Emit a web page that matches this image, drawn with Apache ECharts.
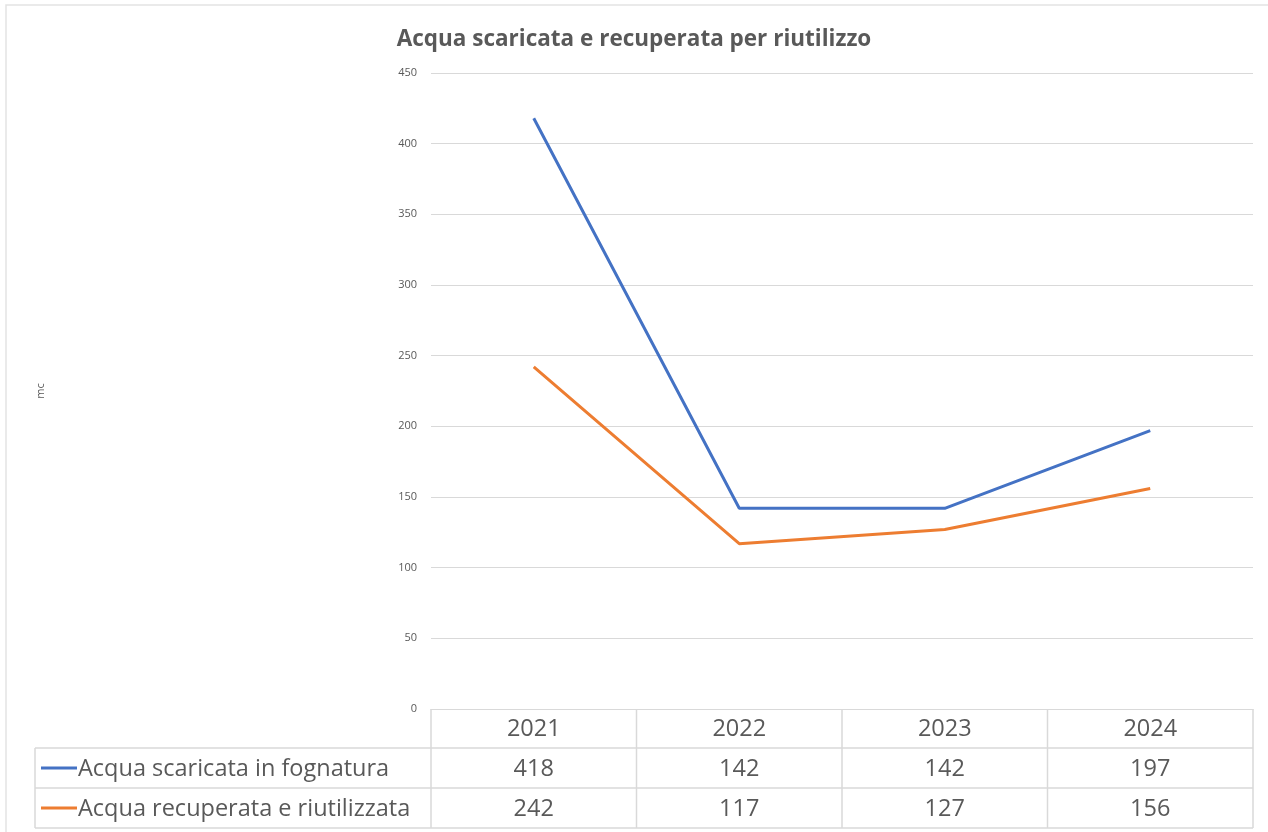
<!DOCTYPE html>
<html>
<head>
<meta charset="utf-8">
<script src="https://cdn.jsdelivr.net/npm/echarts@6/dist/echarts.min.js"></script>
<style>
    html,body{margin:0;padding:0;background:#fff;}
    #chart{width:1268px;height:832px;}
</style>
</head>
<body>
<div id="chart"></div>
<script>
    // dati del grafico
    var anni = ['2021', '2022', '2023', '2024'];
    var scaricata = [418, 142, 142, 197];
    var recuperata = [242, 117, 127, 156];
    var nomiSerie = ['Acqua scaricata in fognatura', 'Acqua recuperata e riutilizzata'];
    var colori = ['#4472C4', '#ED7D31'];

    var testo = '#595959';
    var bordo = '#d9d9d9';
    var font = '"Open Sans", "Noto Sans", sans-serif';

    var myChart = echarts.init(document.getElementById('chart'));

    var option = {
        backgroundColor: '#fff',
        animation: false,
        textStyle: { fontFamily: font },
        title: {
            text: 'Acqua scaricata e recuperata per riutilizzo',
            left: 'center',
            top: 23,
            textStyle: { fontSize: 22.5, fontWeight: 'bold', color: testo, fontFamily: font }
        },
        grid: { left: 431, right: 15, top: 73, bottom: 123 },
        xAxis: {
            type: 'category',
            data: anni,
            boundaryGap: true,
            axisLine: { lineStyle: { color: bordo } },
            axisTick: { show: false },
            axisLabel: { show: false }
        },
        yAxis: {
            type: 'value',
            min: 0,
            max: 450,
            interval: 50,
            name: 'mc',
            nameLocation: 'middle',
            nameGap: 385,
            nameRotate: 90,
            nameTextStyle: { fontSize: 11, color: testo },
            axisLine: { show: false },
            axisTick: { show: false },
            axisLabel: { fontSize: 11, color: testo, margin: 14 },
            splitLine: { lineStyle: { color: bordo, width: 1 } }
        },
        series: [
            {
                name: nomiSerie[0], type: 'line', data: scaricata, symbol: 'none',
                lineStyle: { color: colori[0], width: 3 }, itemStyle: { color: colori[0] }
            },
            {
                name: nomiSerie[1], type: 'line', data: recuperata, symbol: 'none',
                lineStyle: { color: colori[1], width: 3 }, itemStyle: { color: colori[1] }
            }
        ]
    };
    myChart.setOption(option);

    // tabella dati sotto il grafico
    function disegnaTabella() {
        var x0 = myChart.convertToPixel({ gridIndex: 0 }, [0, 0]);
        var yTop = x0[1];
        var cella = myChart.convertToPixel({ xAxisIndex: 0 }, anni[1]) - myChart.convertToPixel({ xAxisIndex: 0 }, anni[0]);
        var left = myChart.convertToPixel({ xAxisIndex: 0 }, anni[0]) - cella / 2;
        var right = left + cella * anni.length;
        var colSx = 35;
        var righe = [yTop, yTop + 39, yTop + 79, yTop + 119];
        var g = [];
        var linea = { stroke: bordo, lineWidth: 1.5 };
        var fTab = '23.5px ' + font;

        // bordo esterno del grafico
        g.push({ type: 'rect', shape: { x: 6, y: 5, width: 1300, height: 1000 }, style: { fill: 'none', stroke: '#e3e3e3', lineWidth: 1.5 }, silent: true });

        // linee orizzontali
        g.push({ type: 'line', shape: { x1: colSx, y1: righe[1], x2: right, y2: righe[1] }, style: linea });
        g.push({ type: 'line', shape: { x1: colSx, y1: righe[2], x2: right, y2: righe[2] }, style: linea });
        g.push({ type: 'line', shape: { x1: colSx, y1: righe[3], x2: right, y2: righe[3] }, style: linea });
        // linee verticali
        g.push({ type: 'line', shape: { x1: colSx, y1: righe[1], x2: colSx, y2: righe[3] }, style: linea });
        for (var i = 0; i <= anni.length; i++) {
            var xv = left + cella * i;
            g.push({ type: 'line', shape: { x1: xv, y1: yTop, x2: xv, y2: righe[3] }, style: linea });
        }

        var valori = [scaricata, recuperata];
        for (var c = 0; c < anni.length; c++) {
            var xc = myChart.convertToPixel({ xAxisIndex: 0 }, anni[c]);
            g.push({ type: 'text', x: xc, y: (righe[0] + righe[1]) / 2 + 1, style: { text: anni[c], fill: testo, font: fTab, align: 'center', verticalAlign: 'middle' } });
            for (var r = 0; r < 2; r++) {
                g.push({ type: 'text', x: xc, y: (righe[r + 1] + righe[r + 2]) / 2 + 1, style: { text: String(valori[r][c]), fill: testo, font: fTab, align: 'center', verticalAlign: 'middle' } });
            }
        }
        for (var s = 0; s < 2; s++) {
            var yc = (righe[s + 1] + righe[s + 2]) / 2;
            g.push({ type: 'line', shape: { x1: 41, y1: yc, x2: 77, y2: yc }, style: { stroke: colori[s], lineWidth: 3 } });
            g.push({ type: 'text', x: 78, y: yc + 1, style: { text: nomiSerie[s], fill: testo, font: fTab, align: 'left', verticalAlign: 'middle' } });
        }
        myChart.setOption({ graphic: g });
    }
    disegnaTabella();
</script>
</body>
</html>
